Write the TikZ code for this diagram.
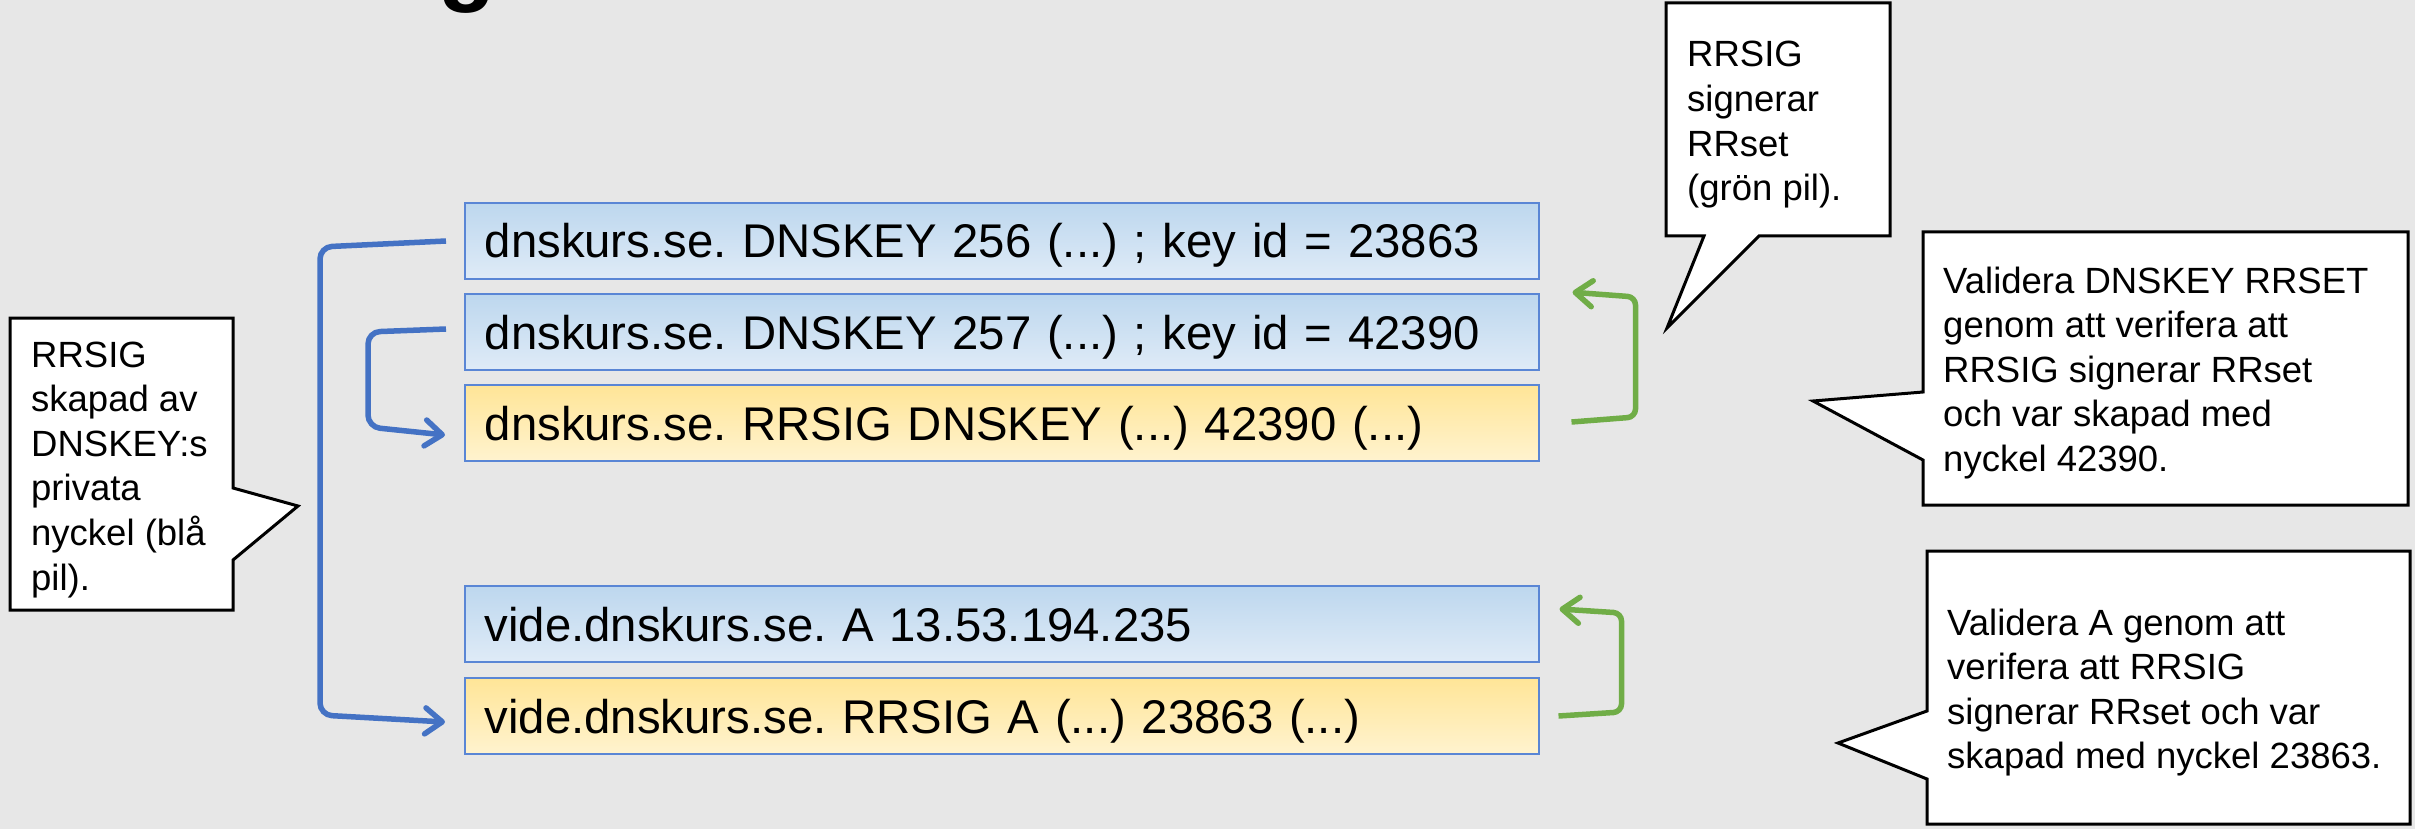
\documentclass[tikz,border=0pt]{standalone}
\usepackage{fontspec}
\setmainfont{Liberation Sans}
\usetikzlibrary{arrows.meta}
\definecolor{bg}{HTML}{E7E7E7}
\definecolor{blueline}{HTML}{4472C4}
\definecolor{boxline}{HTML}{5A86D5}
\definecolor{greenline}{HTML}{70AD47}
\definecolor{bluetop}{HTML}{BDD7EE}
\definecolor{bluebot}{HTML}{DFEBF7}
\definecolor{yeltop}{HTML}{FFE597}
\definecolor{yelbot}{HTML}{FFF3CF}
\tikzset{
  recbox/.style={draw=boxline, line width=1.5pt, minimum height=76pt,
    text width=1034pt, inner xsep=20pt, inner ysep=0pt, align=left,
    anchor=west, font=\fontsize{47.3}{57}\selectfont, text height=34pt, text depth=0pt},
  bluebox/.style={recbox, top color=bluetop, bottom color=bluebot},
  yellowbox/.style={recbox, top color=yeltop, bottom color=yelbot},
  calloutshape/.style={draw=black, fill=white, line width=3pt, line join=miter},
  calltext/.style={inner sep=0pt, anchor=base west, font=\fontsize{36.5}{44.6}\selectfont},
  bluearr/.style={draw=blueline, line width=5.5pt, rounded corners=12pt,
    -{Straight Barb[length=17pt,width=26pt,round]}},
  greenarr/.style={draw=greenline, line width=5.5pt, rounded corners=8pt,
    -{Straight Barb[length=17pt,width=26pt,round]}},
}
\begin{document}
\frenchspacing
\begin{tikzpicture}[x=1pt,y=-1pt]
\useasboundingbox (0,0) rectangle (2415,829);
\fill[bg] (0,0) rectangle (2415,829);

% cut-off title letter
\node[inner sep=0pt, anchor=base west, font=\fontsize{94}{94}\selectfont\bfseries] (title) at (438,-6) {g};

% record boxes
\node[bluebox] (b1) at (464,241) {dnskurs.se. DNSKEY 256 (...) ; key id = 23863};
\node[bluebox] (b2) at (464,332) {dnskurs.se. DNSKEY 257 (...) ; key id = 42390};
\node[yellowbox] (b3) at (464,423) {dnskurs.se. RRSIG DNSKEY (...) 42390 (...)};
\node[bluebox] (b4) at (464,624) {vide.dnskurs.se. A 13.53.194.235};
\node[yellowbox] (b5) at (464,716) {vide.dnskurs.se. RRSIG A (...) 23863 (...)};

% blue arrows
\draw[bluearr] ([xshift=-18pt]b1.west) -- ++(-126,6) -- ++(0,468) -- ([shift={(-19,6)}]b5.west);
\draw[bluearr] ([shift={(-18,-3)}]b2.west) -- ++(-78,3) -- ++(0,95) -- ([shift={(-19,12)}]b3.west);

% green arrows
\draw[greenarr] ([shift={(32,-1)}]b3.east) -- ++(64,-5) -- ++(0,-120) -- ([shift={(33,-1)}]b2.north east);
\draw[greenarr] ([xshift=19pt]b5.east) -- ++(63,-4) -- ++(0,-99) -- ([shift={(20,-15)}]b4.east);

% callouts
\path[calloutshape] (10,318) -- (233,318) -- (233,488) -- (298,506) -- (233,560) -- (233,610) -- (10,610) -- cycle;
\node[calltext] (c1) at (31,367) {\vtop{\hbox{RRSIG}\hbox{skapad av}\hbox{DNSKEY:s}\hbox{privata}\hbox{nyckel (blå}\hbox{pil).}}};

\path[calloutshape] (1666,3) -- (1890,3) -- (1890,236) -- (1759,236) -- (1667,328) -- (1704,236) -- (1666,236) -- cycle;
\node[calltext] (c2) at (1687,67) {\vtop{\hbox{RRSIG}\hbox{signerar}\hbox{RRset}\hbox{(grön pil).}}};

\path[calloutshape] (1923,232) -- (2408,232) -- (2408,505) -- (1923,505) -- (1923,460) -- (1813,401) -- (1923,392) -- cycle;
\node[calltext] (c3) at (1943,293) {\vtop{\hbox{Validera DNSKEY RRSET}\hbox{genom att verifera att}\hbox{RRSIG signerar RRset}\hbox{och var skapad med}\hbox{nyckel 42390.}}};

\path[calloutshape] (1927,551) -- (2410,551) -- (2410,824) -- (1927,824) -- (1927,779) -- (1838,743) -- (1927,711) -- cycle;
\node[calltext] (c4) at (1947,635) {\vtop{\hbox{Validera A genom att}\hbox{verifera att RRSIG}\hbox{signerar RRset och var}\hbox{skapad med nyckel 23863.}}};
\end{tikzpicture}
\end{document}
